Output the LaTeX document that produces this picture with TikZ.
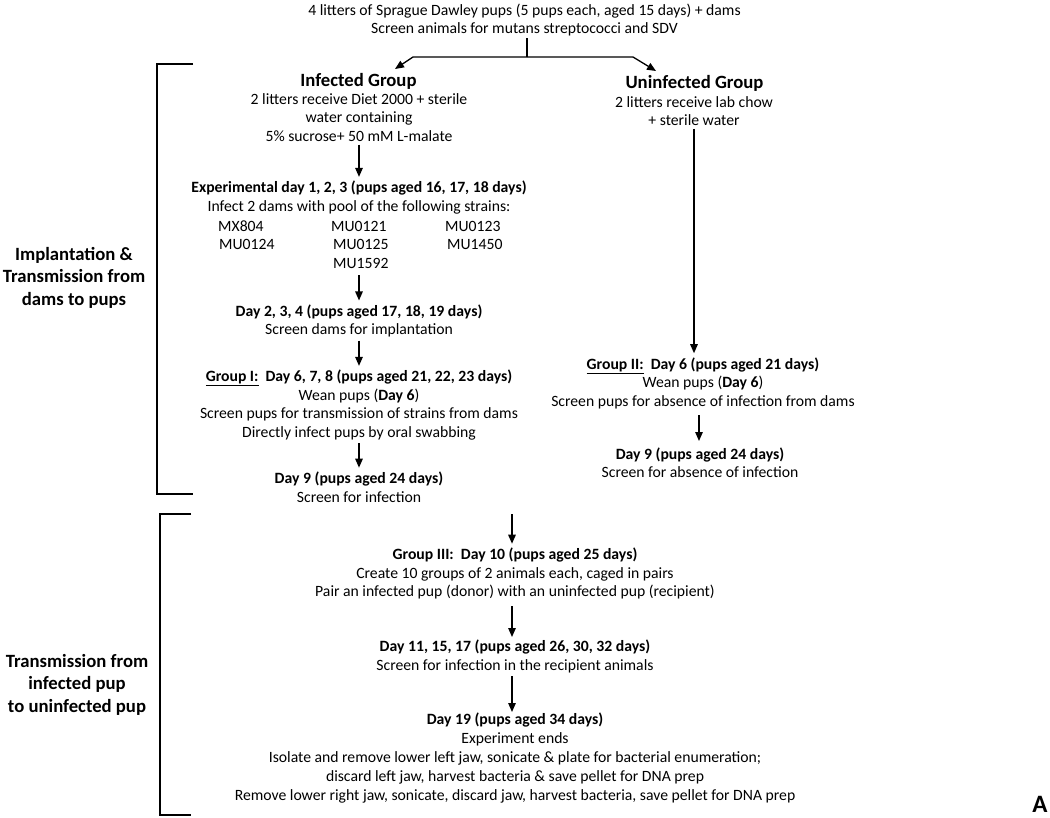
\documentclass[tikz,border=0pt]{standalone}
\usepackage{fontspec}
\setmainfont{Carlito}
\usetikzlibrary{arrows.meta}
\begin{document}
\begin{tikzpicture}[x=1pt,y=-1pt,
  txt/.style={font=\fontsize{15.7}{18.5}\selectfont, align=center, inner sep=0pt},
  txtb/.style={font=\fontsize{15.7}{19}\selectfont, align=center, inner sep=0pt},
  head/.style={font=\fontsize{18.7}{22}\selectfont\bfseries, align=center, inner sep=0pt},
  lab/.style={font=\fontsize{18.7}{22.5}\selectfont\bfseries, align=center, inner sep=0pt},
  strain/.style={font=\fontsize{15.7}{18.5}\selectfont, anchor=west, inner sep=0pt},
  arr/.style={line width=1.3pt, -{Triangle[length=9pt,width=7.5pt]}, shorten <=3pt, shorten >=4pt},
  ln/.style={line width=1.3pt},
  brk/.style={line width=1.3pt}]
\useasboundingbox (0,0) rectangle (1050,817);

% top
\node[txt] (top) at (524.5,20) {4 litters of Sprague Dawley pups (5 pups each, aged 15 days) + dams\\Screen animals for mutans streptococci and SDV};

% infected column
\node[head] (infH) at (358.5,81) {Infected Group};
\node[txt] (infB) at (359,117.5) {2 litters receive Diet 2000 + sterile\\water containing\\5\% sucrose+ 50 mM L-malate};
\node[txt] (exp) at (359,197.5) {\textbf{Experimental day 1, 2, 3 (pups aged 16, 17, 18 days)}\\Infect 2 dams with pool of the following strains:};
\node[strain] (s1) at (218,226) {MX804};
\node[strain] (s2) at (331,226) {MU0121};
\node[strain] (s3) at (445,226) {MU0123};
\node[strain] (s4) at (219,244.5) {MU0124};
\node[strain] (s5) at (333,244.5) {MU0125};
\node[strain] (s6) at (447,244.5) {MU1450};
\node[strain] (s7) at (333,263) {MU1592};
\node[txt] (day2) at (359,321) {\textbf{Day 2, 3, 4 (pups aged 17, 18, 19 days)}\\Screen dams for implantation};
\node[txt] (g1) at (359,405) {\textbf{\underline{Group I:}\ \ Day 6, 7, 8 (pups aged 21, 22, 23 days)}\\Wean pups (\textbf{Day 6})\\Screen pups for transmission of strains from dams\\Directly infect pups by oral swabbing};
\node[txt] (d9a) at (359,487) {\textbf{Day 9 (pups aged 24 days)}\\Screen for infection};

% uninfected column
\node[head] (uninfH) at (694.5,83) {Uninfected Group};
\node[txt] (uninfB) at (694,111) {2 litters receive lab chow\\+ sterile water};
\node[txt] (g2) at (703,383) {\textbf{\underline{Group II:}\ \ Day 6 (pups aged 21 days)}\\Wean pups (\textbf{Day 6})\\Screen pups for absence of infection from dams};
\node[txt] (d9b) at (700,462.5) {\textbf{Day 9 (pups aged 24 days)}\\Screen for absence of infection};

% bottom
\node[txt] (g3) at (515,573.5) {\textbf{Group III:\ \ Day 10 (pups aged 25 days)}\\Create 10 groups of 2 animals each, caged in pairs\\Pair an infected pup (donor) with an uninfected pup (recipient)};
\node[txt] (d11) at (515,656.5) {\textbf{Day 11, 15, 17 (pups aged 26, 30, 32 days)}\\Screen for infection in the recipient animals};
\node[txtb] (d19) at (515,758) {\textbf{Day 19 (pups aged 34 days)}\\Experiment ends\\Isolate and remove lower left jaw, sonicate \& plate for bacterial enumeration;\\discard left jaw, harvest bacteria \& save pellet for DNA prep\\Remove lower right jaw, sonicate, discard jaw, harvest bacteria, save pellet for DNA prep};

% side labels
\node[lab] (lab1) at (74,277.5) {Implantation \&\\Transmission from\\dams to pups};
\node[lab] (lab2) at (77,684.5) {Transmission from\\infected pup\\to uninfected pup};
\node[font=\fontsize{25}{29}\selectfont\bfseries, inner sep=0pt] (A) at (1040,804) {A};

% split connector
\coordinate (split) at (527,57);
\coordinate (lk) at (413,57);
\coordinate (rk) at (633,57);
\coordinate (ltip) at (395,69);
\coordinate (rtip) at (656,71);
\draw[ln] (top.south -| split) ++(0,2) -- (split);
\draw[line width=1.3pt, -{Triangle[length=9pt,width=7.5pt]}] (split) -- (lk) -- (ltip);
\draw[line width=1.3pt, -{Triangle[length=9pt,width=7.5pt]}] (split) -- (rk) -- (rtip);

% left column arrows
\draw[arr] (infB.south) -- (exp.north);
\draw[arr] (359,272) -- (day2.north);
\draw[arr] (day2.south) -- (g1.north);
\draw[arr] (g1.south) -- (d9a.north);

% right column arrows
\draw[arr] (uninfB.south) -- (uninfB.south |- g2.north);
\draw[arr] (699,412) -- (699,445);

% bottom arrows
\coordinate (g3in) at (512,514);
\draw[line width=1.3pt, -{Triangle[length=9pt,width=7.5pt]}, shorten >=4pt] (g3in) -- (g3in |- g3.north);
\draw[arr] (512,603) -- (512,641);
\draw[arr] (512,673) -- (512,716);

% brackets
\draw[brk] (193,64) -- (157,64) -- (157,494) -- (193,494);
\draw[brk] (191,514) -- (160,514) -- (160,815) -- (191,815);
\end{tikzpicture}
\end{document}
